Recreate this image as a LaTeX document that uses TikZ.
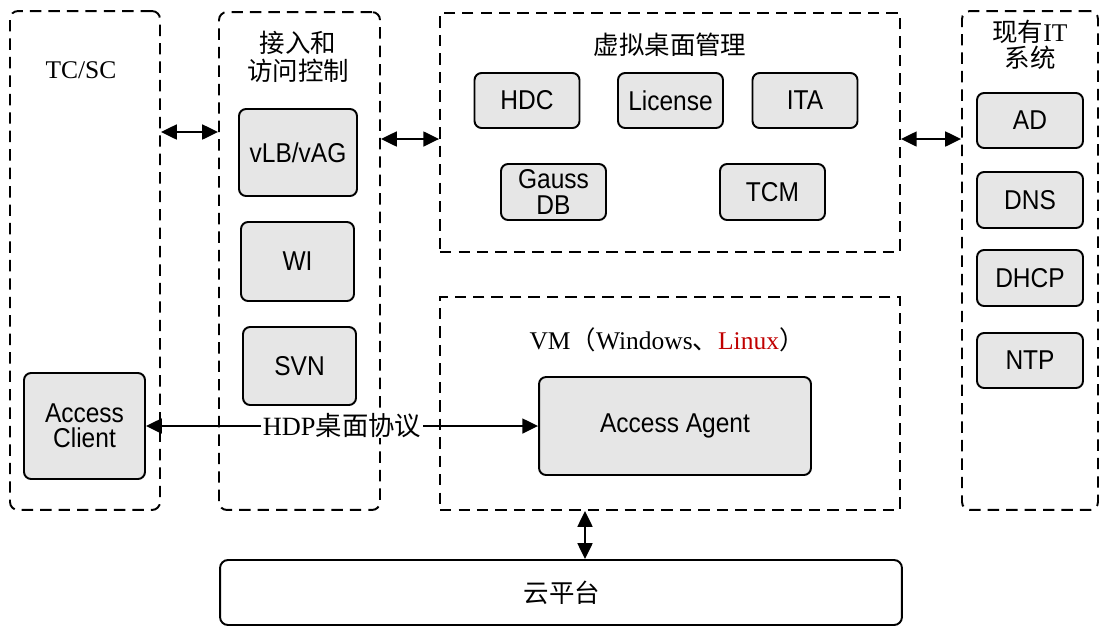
\documentclass[tikz,border=0pt]{standalone}
\usepackage{fontspec}
\setmainfont{Liberation Serif}
\setsansfont{Liberation Sans}
\newfontfamily\cjk{Noto Sans CJK SC}
\newfontfamily\boxfont{Liberation Sans}[FakeStretch=0.9]
\usetikzlibrary{arrows.meta}
\definecolor{boxgray}{RGB}{230,230,230}
\definecolor{linuxred}{RGB}{192,0,0}

\begin{document}
\begin{tikzpicture}[x=0.02cm,y=-0.02cm]
\useasboundingbox (0,0) rectangle (1115,637);
            % Groups
\tikzset{group/.style={draw,dash pattern=on 6.5pt off 4pt,line width=1.1pt,rounded corners=4.5pt,inner sep=0pt}}%G
\tikzset{title/.style={font=\fontsize{14.5pt}{16pt}\selectfont,align=center,inner sep=0pt}}%T
\node[group,minimum width=3cm,minimum height=9.98cm] (tcsc) at (85,260.5) {};
\node[group,minimum width=3.22cm,minimum height=9.96cm] (access) at (299.5,261) {};
\node[group,sharp corners,minimum width=9.2cm,minimum height=4.78cm] (vdm) at (670,132.5) {};
\node[group,sharp corners,minimum width=9.2cm,minimum height=4.26cm] (vm) at (670,403.5) {};
\node[group,minimum width=2.72cm,minimum height=9.98cm] (itsys) at (1030,260.5) {};
\node[group,solid,minimum width=13.64cm,minimum height=1.3cm] (cloud) at (561,592.5) {};
%Titles
\node[title] (tcsctitle) at (81,70) {TC/SC};
\node[title] (accesstitle) at (298,57) {{\cjk 接入和}\\{\cjk 访问控制}};
\node[title] (vdmtitle) at (670,45) {\cjk 虚拟桌面管理};
\node[title,font=\fontsize{14.5pt}{14.5pt}\selectfont] (itsystitle) at (1030,45) {{\cjk 现有}IT\\{\cjk 系统}};
\node[title] (vmtitle) at (667,340) {VM{\cjk （}Windows{\cjk 、}{\color{linuxred}Linux}{\cjk ）}};
\node[title] (cloudtitle) at (562,593) {\cjk 云平台};
            % Boxes
\tikzset{box/.style={draw,fill=boxgray,line width=1.1pt,rounded corners=4pt,inner sep=0pt,align=center,
  font=\boxfont\fontsize{15.5pt}{14.5pt}\selectfont,minimum width=2.1cm,minimum height=1.1cm}}%B
\node[box,minimum width=2.36cm,minimum height=1.74cm] (vlb) at (298,152.5) {vLB/vAG};
\node[box,minimum width=2.26cm,minimum height=1.58cm] (wi) at (297.5,261.5) {WI};
\node[box,minimum width=2.26cm,minimum height=1.56cm] (svn) at (299.5,366) {SVN};
\node[box,minimum width=2.42cm,minimum height=2.12cm] (client) at (84.5,426) {Access\\Client};
\node[box] (hdc) at (527,100.5) {HDC};
\node[box] (license) at (670.5,100.5) {License};
\node[box] (ita) at (805,100.5) {ITA};
\node[box,minimum height=1.12cm] (gauss) at (553.5,192) {Gauss\\DB};
\node[box,minimum height=1.12cm] (tcm) at (772.5,192) {TCM};
\node[box,minimum width=2.12cm] (ad) at (1030,120.5) {AD};
\node[box,minimum width=2.12cm,minimum height=1.12cm] (dns) at (1030,200) {DNS};
\node[box,minimum width=2.12cm,minimum height=1.12cm] (dhcp) at (1030,278) {DHCP};
\node[box,minimum width=2.12cm] (ntp) at (1030,360.5) {NTP};
\node[box,minimum width=5.44cm,minimum height=1.96cm] (agent) at (675,426) {Access Agent};
%Links
\tikzset{link/.style={line width=1.1pt,{Triangle[length=9pt,width=8.5pt]}-{Triangle[length=9pt,width=8.5pt]}}}%L
\draw[link] (tcsc.east |- 0,132) -- (access.west |- 0,132);
\draw[link] (access.east |- 0,139) -- (vdm.west |- 0,139);
\draw[link] (vdm.east |- 0,139) -- (itsys.west |- 0,139);
\draw[link] (vm.south -| 585,0) -- (cloud.north -| 585,0);
\draw[link] (client.east) -- node[title,font=\fontsize{15pt}{16pt}\selectfont,fill=white,inner xsep=1pt] (hdp) {HDP{\cjk 桌面协议}} (agent.west);

          \end{tikzpicture}
\end{document}
